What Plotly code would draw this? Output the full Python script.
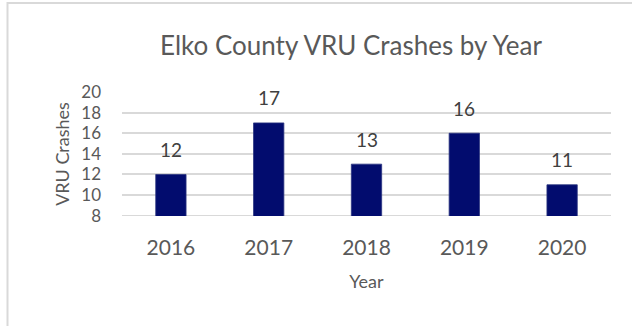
import plotly.graph_objects as go

# Vulnerable road user crashes per year, Elko County
years = ["2016", "2017", "2018", "2019", "2020"]
crashes = [12, 17, 13, 16, 11]
y_ticks = [8, 10, 12, 14, 16, 18, 20]

FONT = "Lato, Calibri, 'Open Sans', sans-serif"
GREY = "#595959"
GRID = "#d9d9d9"
BAR = "#020c6e"

fig = go.Figure(
    go.Bar(
        x=years,
        y=crashes,
        marker=dict(color=BAR, line=dict(color="#2a347f", width=0.8)),
        width=0.31,
        hoverinfo="x+y",
    )
)

# value labels sitting above each bar (category index positions)
for i, v in enumerate(crashes):
    fig.add_annotation(
        x=i, y=v, text=str(v), showarrow=False,
        yanchor="middle", yshift=25,
        font=dict(family=FONT, size=19, color="#404040"),
    )

# baseline gridline at the bottom of the value range
fig.add_hline(y=y_ticks[0], line=dict(color=GRID, width=1.5), layer="below")

# outer chart frame
L, R, T, B = 122, 21, 92, 110
W, H = 632, 326
pw, ph = W - L - R, H - T - B
fig.add_shape(
    type="rect", xref="paper", yref="paper",
    x0=(7.5 - L) / pw, x1=(W + 10 - L) / pw,
    y0=(H - B - (H + 10)) / ph, y1=(H - B - 3) / ph,
    line=dict(color=GRID, width=2), fillcolor="rgba(0,0,0,0)",
    layer="below",
)

fig.update_layout(
    width=W, height=H,
    margin=dict(l=L, r=R, t=T, b=B),
    paper_bgcolor="white", plot_bgcolor="white",
    showlegend=False,
    title=dict(
        text="Elko County VRU Crashes by Year",
        xref="container", yref="container",
        x=351 / W, y=1 - 46 / H, xanchor="center", yanchor="middle",
        font=dict(family=FONT, size=26, color=GREY),
    ),
    xaxis=dict(
        type="category",
        categoryorder="array", categoryarray=years,
        showgrid=False, showline=False, zeroline=False,
        ticks="", ticklabelstandoff=17,
        tickfont=dict(family=FONT, size=21, color=GREY),
        title=dict(text="Year", standoff=17,
                   font=dict(family=FONT, size=18, color=GREY)),
    ),
    yaxis=dict(
        range=[7.97, 20],
        tickvals=y_ticks,
        showgrid=True, gridcolor=GRID, gridwidth=1.5,
        showline=False, zeroline=False,
        ticks="", ticklabelstandoff=20,
        tickfont=dict(family=FONT, size=17, color=GREY),
        title=dict(text="VRU Crashes", standoff=6,
                   font=dict(family=FONT, size=18, color=GREY)),
    ),
)

fig.write_html("out.html")
